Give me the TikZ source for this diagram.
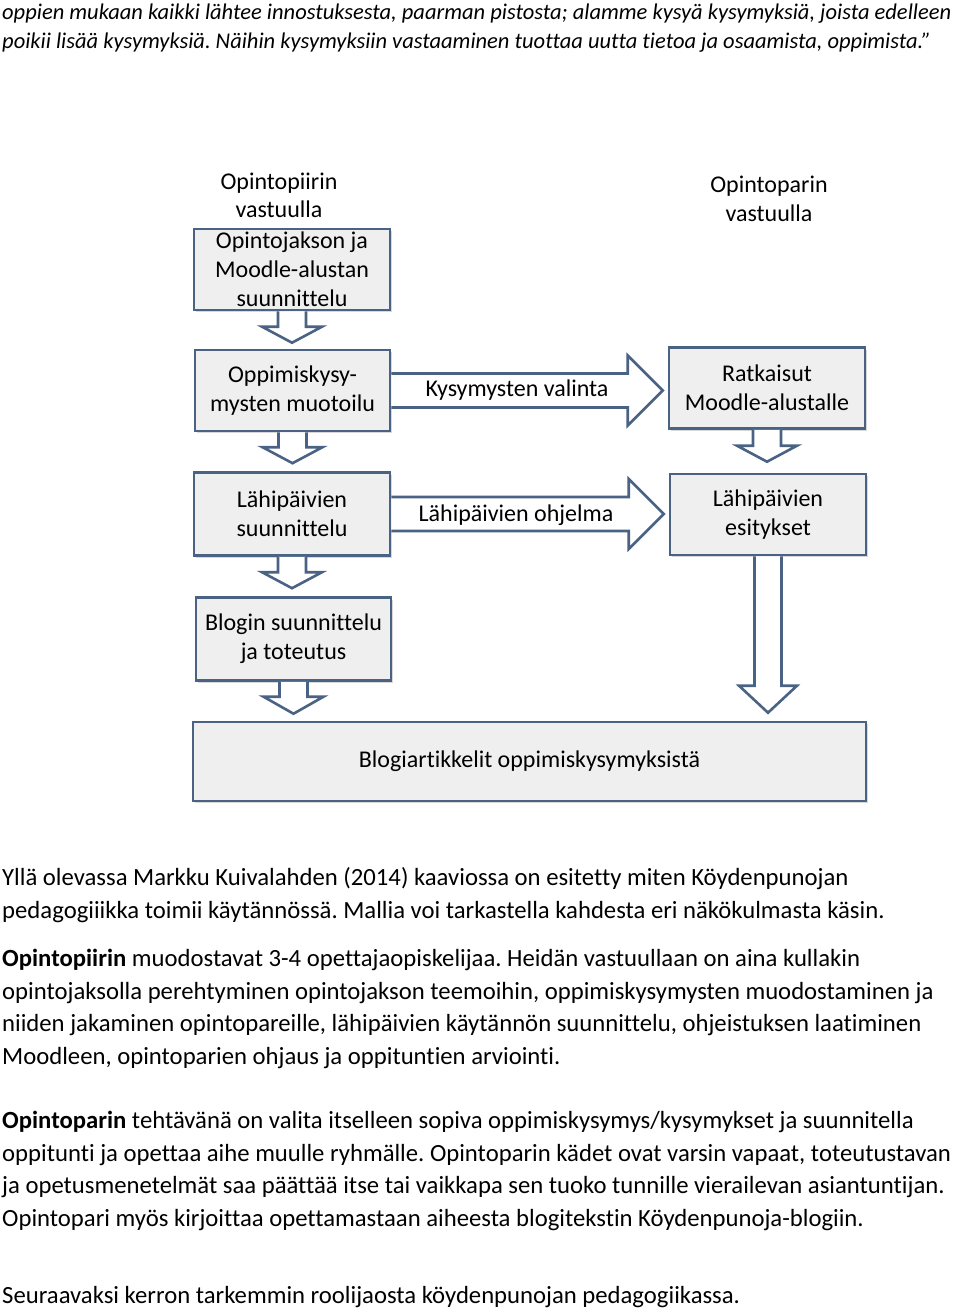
\documentclass[tikz,border=0pt]{standalone}
\usepackage{fontspec}
\setmainfont{Carlito}[Ligatures={NoCommon}]
\usetikzlibrary{calc,shadows}
\frenchspacing
\definecolor{edge}{HTML}{4A6283}
\definecolor{boxfill}{HTML}{EFEFEF}
\tikzset{
  stepbox/.style={draw=edge, line width=2.6pt, fill=boxfill,
    drop shadow={shadow xshift=2pt, shadow yshift=-2pt, opacity=0.3, fill=gray},
    align=center, inner sep=0pt, font=\fontsize{24}{29}\selectfont},
  blockarrow/.style={draw=edge, line width=2.6pt, fill=white, line join=miter},
  headtext/.style={align=center, inner sep=0pt, font=\fontsize{24}{28.5}\selectfont},
  arrowtext/.style={inner sep=0pt, font=\fontsize{24}{29}\selectfont},
  bodytext/.style={anchor=base west, inner sep=0pt, font=\fontsize{24.7}{33}\selectfont},
  quotetext/.style={anchor=base west, inner sep=0pt, font=\fontsize{22.5}{29}\selectfont\itshape},
}
% down block arrow: from, to, shaft half, head half, head length, gap
\newcommand{\dnblock}[6]{%
  \draw[blockarrow] let \p1=(#1.south), \p2=(#2.north) in
   (\x1-#3,\y1) -- (\x1-#3,\y2+#6+#5) -- (\x1-#4,\y2+#6+#5) -- (\x1,\y2+#6)
   -- (\x1+#4,\y2+#6+#5) -- (\x1+#3,\y2+#6+#5) -- (\x1+#3,\y1);}
% right block arrow: from, to, shaft half, head half, head length, gap
\newcommand{\rtblock}[6]{%
  \draw[blockarrow] let \p1=(#1.east), \p2=(#2.west) in
   (\x1,\y1+#3) -- (\x2-#6-#5,\y1+#3) -- (\x2-#6-#5,\y1+#4) -- (\x2-#6,\y1)
   -- (\x2-#6-#5,\y1-#4) -- (\x2-#6-#5,\y1-#3) -- (\x1,\y1-#3);}
\begin{document}
\begin{tikzpicture}[x=1pt,y=-1pt]
\useasboundingbox[fill=white] (0,0) rectangle (960,1310);

% quote text
\node[quotetext] (q1) at (2,19) {oppien mukaan kaikki lähtee innostuksesta, paarman pistosta; alamme kysyä kysymyksiä, joista edelleen};
\node[quotetext] (q2) at (2,48) {poikii lisää kysymyksiä. Näihin kysymyksiin vastaaminen tuottaa uutta tietoa ja osaamista, oppimista.”};

% headings
\node[headtext] (h1) at (279,195.5) {Opintopiirin\\vastuulla};
\node[headtext] (h2) at (769,199) {Opintoparin\\vastuulla};

% boxes
\node[stepbox, minimum width=196pt, minimum height=81pt] (b1) at (292,269.5) {Opintojakson ja\\Moodle-alustan\\suunnittelu};
\node[stepbox, minimum width=195pt, minimum height=81pt] (b2) at (292.5,390.5) {Oppimiskysy-\\mysten muotoilu};
\node[stepbox, minimum width=196pt, minimum height=81pt] (b3) at (767,388) {Ratkaisut\\Moodle-alustalle};
\node[stepbox, minimum width=196pt, minimum height=83pt] (b4) at (292,514) {Lähipäivien\\suunnittelu};
\node[stepbox, minimum width=196pt, minimum height=81pt] (b5) at (768,514.5) {Lähipäivien\\esitykset};
\node[stepbox, minimum width=195pt, minimum height=83pt] (b6) at (293.5,639) {Blogin suunnittelu\\ja toteutus};
\node[stepbox, minimum width=673pt, minimum height=79pt] (b7) at (529.5,761.5) {Blogiartikkelit oppimiskysymyksistä};

% block arrows
\dnblock{b1}{b2}{14pt}{30pt}{16pt}{6pt}
\dnblock{b2}{b4}{14pt}{30pt}{16pt}{8pt}
\dnblock{b4}{b6}{14pt}{30pt}{16pt}{8pt}
\dnblock{b6}{b7}{14pt}{30pt}{17pt}{7pt}
\dnblock{b3}{b5}{14pt}{30pt}{16pt}{11pt}
\dnblock{b5}{b7}{13.5pt}{29pt}{27pt}{8pt}
\rtblock{b2}{b3}{17pt}{35pt}{35pt}{5pt}
\rtblock{b4}{b5}{17pt}{35pt}{35pt}{5pt}
\node[arrowtext] (l1) at (517,390) {Kysymysten valinta};
\node[arrowtext] (l2) at (516,515) {Lähipäivien ohjelma};

% body text
\node[bodytext] (t1) at (2,885) {Yllä olevassa Markku Kuivalahden (2014) kaaviossa on esitetty miten Köydenpunojan};
\node[bodytext] (t2) at (2,918) {pedagogiiikka toimii käytännössä. Mallia voi tarkastella kahdesta eri näkökulmasta käsin.};
\node[bodytext] (t3) at (2,966) {\textbf{Opintopiirin} muodostavat 3-4 opettajaopiskelijaa. Heidän vastuullaan on aina kullakin};
\node[bodytext] (t4) at (2,999) {opintojaksolla perehtyminen opintojakson teemoihin, oppimiskysymysten muodostaminen ja};
\node[bodytext] (t5) at (2,1031) {niiden jakaminen opintopareille, lähipäivien käytännön suunnittelu, ohjeistuksen laatiminen};
\node[bodytext] (t6) at (2,1064) {Moodleen, opintoparien ohjaus ja oppituntien arviointi.};
\node[bodytext] (t7) at (2,1128) {\textbf{Opintoparin} tehtävänä on valita itselleen sopiva oppimiskysymys/kysymykset ja suunnitella};
\node[bodytext] (t8) at (2,1161) {oppitunti ja opettaa aihe muulle ryhmälle. Opintoparin kädet ovat varsin vapaat, toteutustavan};
\node[bodytext] (t9) at (2,1193) {ja opetusmenetelmät saa päättää itse tai vaikkapa sen tuoko tunnille vierailevan asiantuntijan.};
\node[bodytext] (t10) at (2,1226) {Opintopari myös kirjoittaa opettamastaan aiheesta blogitekstin Köydenpunoja-blogiin.};
\node[bodytext] (t11) at (2,1303) {Seuraavaksi kerron tarkemmin roolijaosta köydenpunojan pedagogiikassa.};
\end{tikzpicture}
\end{document}
